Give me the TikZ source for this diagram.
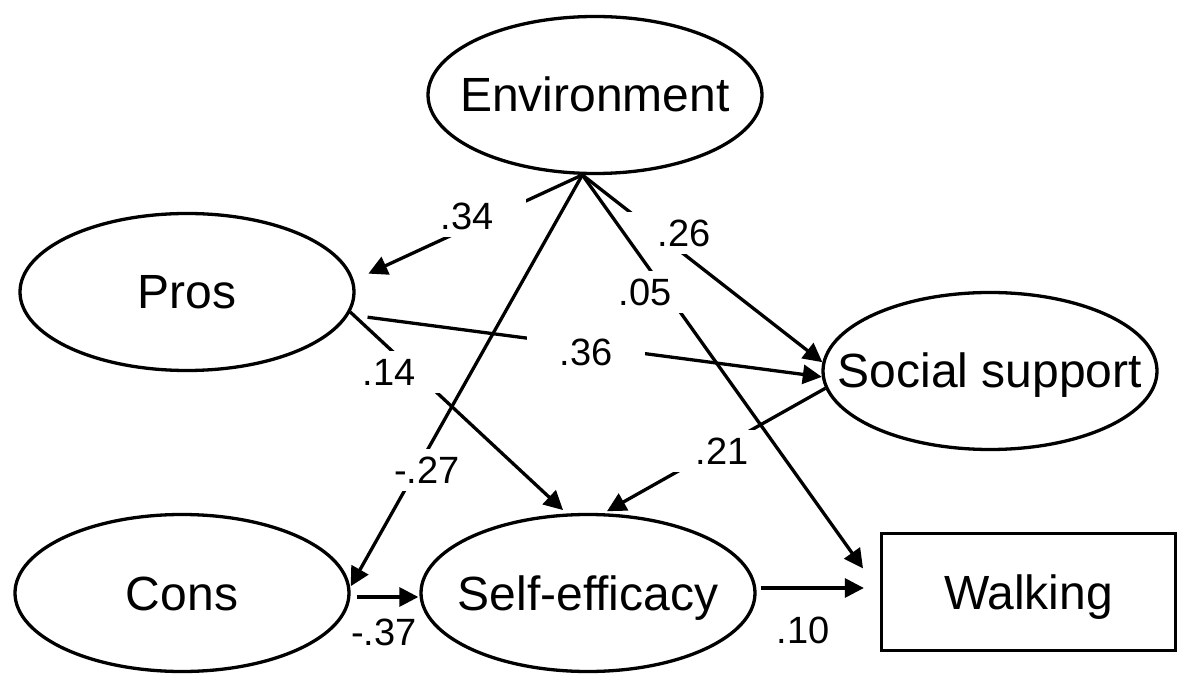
\documentclass[tikz,border=0pt]{standalone}
\usepackage{fontspec}
\setmainfont{Liberation Sans}
\usetikzlibrary{shapes.geometric,arrows.meta}
\newcommand{\zw}[1]{\makebox[0pt]{#1}}
\begin{document}
\begin{tikzpicture}[x=1pt,y=-1pt,
  ell/.style={draw, ellipse, line width=3.3pt, minimum width=334pt, minimum height=157pt, inner sep=0pt, text height=34pt, text depth=0pt, font=\fontsize{48}{56}\selectfont},
  outbox/.style={draw, rectangle, line width=3.3pt, minimum width=294pt, minimum height=117pt, inner sep=0pt, text height=34pt, text depth=0pt, font=\fontsize{48}{56}\selectfont},
  arr/.style={line width=3.3pt, -{Triangle[length=19pt,width=19pt]}},
  lbl/.style={fill=white, inner sep=0pt, minimum width=118pt, minimum height=42pt, text height=27pt, text depth=0pt, font=\fontsize{38}{40}\selectfont},
  lblplain/.style={inner sep=0pt, text height=27pt, text depth=0pt, font=\fontsize{38}{40}\selectfont}]
\useasboundingbox (0,0) rectangle (1200,692);
\fill[white] (0,0) rectangle (1200,692);

\node[ell] (Env) at (595,95) {\zw{Environment}};
\node[ell] (Pros) at (187,292) {\zw{Pros}};
\node[ell] (Social) at (990,371) {\zw{Social support}};
\node[ell] (Cons) at (182,593) {\zw{Cons}};
\node[ell] (SE) at (588,593) {\zw{Self-efficacy}};
\node[outbox] (Walk) at (1028.5,592) {Walking};

\coordinate (apex) at (Env.261);

% Environment -> Pros
\draw[arr, shorten >=16pt] (apex) -- (Pros.4);
\node[lbl] (l34) at (467,216) {.34};
% Environment -> Cons
\draw[arr, shorten >=1pt] (apex) -- (Cons.2);
\node[lbl] (l27) at (427,470) {-.27};
% Pros -> Social support
\draw[arr, shorten <=19pt] (Pros.-8) -- (Social.182);
\node[lbl] (l36) at (586,352) {.36};
% Pros -> Self-efficacy
\draw[arr, shorten >=5pt] (Pros.-7) -- (SE.105);
\node[lbl] (l14) at (389,372) {.14};
% Environment -> Social support
\draw[arr] (apex) -- (Social.177);
\node[lbl] (l26) at (684,233) {.26};
% Social support -> Self-efficacy
\draw[arr, shorten >=4pt] (Social.186) -- (SE.79);
\node[lbl] (l21) at (722,451) {.21};
% Environment -> Walking
\draw[arr, shorten >=29pt] (apex) -- (Walk.west);
\node[lbl, minimum width=110pt] (l05) at (645,292) {.05};
% Cons -> Self-efficacy
\draw[arr, shorten <=6pt, shorten >=1pt] ([yshift=-4pt]Cons.east) -- ([yshift=-4pt]SE.west);
\node[lblplain] (l37) at (384,632) {-.37};
% Self-efficacy -> Walking
\draw[arr, shorten <=4pt, shorten >=16pt] ([yshift=5pt]SE.east) -- ([yshift=4pt]Walk.west);
\node[lblplain] (l10) at (803,630) {.10};
\end{tikzpicture}
\end{document}
